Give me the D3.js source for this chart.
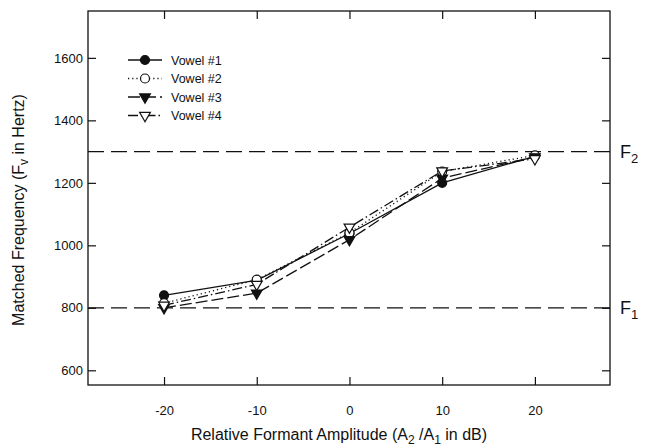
<!DOCTYPE html>
<html><head><meta charset="utf-8">
<script src="https://cdn.jsdelivr.net/npm/d3@7"></script>
<style>body{margin:0;background:#fff}svg{display:block}text{font-family:"Liberation Sans",Arial,sans-serif;fill:#111}</style>
</head><body><svg id="c" width="645" height="447"></svg>
<script>
const xValues = [-20, -10, 0, 10, 20];
const vowel1 = [840, 888, 1038, 1200, 1285];
const vowel2 = [815, 890, 1040, 1236, 1288];
const vowel3 = [800, 847, 1018, 1215, 1283];
const vowel4 = [808, 875, 1058, 1238, 1277];
const seriesNames = ["Vowel #1", "Vowel #2", "Vowel #3", "Vowel #4"];
const xTicks = [-20, -10, 0, 10, 20];
const yTicks = [600, 800, 1000, 1200, 1400, 1600];
const refLines = [800, 1300];

const svg = d3.select("#c");
const L = 88, R = 610, T = 11, B = 385;
const x = d3.scaleLinear().domain([-28.2, 28.1]).range([L, R]);
const y = d3.scaleLinear().domain([553, 1750]).range([B, T]);

const styles = [
  {dash: null, marker: "circle", fill: "#111"},
  {dash: "1.2,3", marker: "circle", fill: "#fff"},
  {dash: "12,4", marker: "tri", fill: "#111"},
  {dash: "10,3,1.5,3", marker: "tri", fill: "#fff"}
];
const allSeries = [vowel1, vowel2, vowel3, vowel4];
const fmt = d => String(d);

svg.append("rect").attr("x", L).attr("y", T).attr("width", R - L).attr("height", B - T)
  .attr("fill", "none").attr("stroke", "#111").attr("stroke-width", 1.3);

const ax = (g, axis) => { g.call(axis); g.select(".domain").remove(); g.selectAll("line").attr("stroke", "#111").attr("stroke-width", 1.2); };
svg.append("g").attr("transform", `translate(0,${B})`)
  .call(g => ax(g, d3.axisBottom(x).tickValues(xTicks).tickSizeInner(-8).tickPadding(21).tickFormat(fmt)))
  .selectAll("text").attr("font-size", 13);
svg.append("g").attr("transform", `translate(0,${T})`)
  .call(g => ax(g, d3.axisTop(x).tickValues(xTicks).tickSizeInner(-8).tickFormat("")));
svg.append("g").attr("transform", `translate(${L},0)`)
  .call(g => ax(g, d3.axisLeft(y).tickValues(yTicks).tickSizeInner(-8).tickFormat(fmt)))
  .selectAll("text").attr("font-size", 13).attr("x", -5);
svg.append("g").attr("transform", `translate(${R},0)`)
  .call(g => ax(g, d3.axisRight(y).tickValues(yTicks).tickSizeInner(-8).tickFormat("")));

svg.selectAll(".ref").data(refLines).join("line")
  .attr("x1", L).attr("x2", R).attr("y1", d => y(d)).attr("y2", d => y(d))
  .attr("stroke", "#111").attr("stroke-width", 1.2).attr("stroke-dasharray", "16,7");
const fl = svg.selectAll(".fl").data([["F", "2", 1300], ["F", "1", 800]]).join("text")
  .attr("x", 620).attr("y", d => y(d[2]) + 6).attr("font-size", 18);
fl.append("tspan").text(d => d[0]);
fl.append("tspan").attr("font-size", 13).attr("dy", 5).text(d => d[1]);

const line = d3.line().x((d, i) => x(xValues[i])).y(d => y(d));
const tri = d3.symbol().type(d3.symbolTriangle).size(50);
function drawMarker(g, st, cx, cy) {
  if (st.marker === "circle") {
    g.append("circle").attr("cx", cx).attr("cy", cy).attr("r", 4.5)
      .attr("fill", st.fill).attr("stroke", "#111").attr("stroke-width", 1.2);
  } else {
    g.append("path").attr("d", tri()).attr("transform", `translate(${cx},${cy}) rotate(180)`)
      .attr("fill", st.fill).attr("stroke", "#111").attr("stroke-width", 1.2);
  }
}
allSeries.forEach((s, k) => {
  svg.append("path").datum(s).attr("d", line).attr("fill", "none")
    .attr("stroke", "#111").attr("stroke-width", 1.3)
    .attr("stroke-dasharray", styles[k].dash);
});
allSeries.forEach((s, k) => {
  const g = svg.append("g");
  s.forEach((v, i) => drawMarker(g, styles[k], x(xValues[i]), y(v)));
});

const lg = svg.append("g");
seriesNames.forEach((name, k) => {
  const yy = 60 + k * 18.5, st = styles[k];
  lg.append("line").attr("x1", 128).attr("x2", 162).attr("y1", yy).attr("y2", yy)
    .attr("stroke", "#111").attr("stroke-width", 1.3).attr("stroke-dasharray", st.dash);
  drawMarker(lg, st, 145, yy);
  lg.append("text").attr("x", 171).attr("y", yy + 4.5).attr("font-size", 12.5).text(name);
});

const xt = svg.append("text").attr("x", (L + R) / 2 - 10).attr("y", 440).attr("text-anchor", "middle").attr("font-size", 16);
xt.append("tspan").text("Relative Formant Amplitude (A");
xt.append("tspan").attr("font-size", 12).attr("dy", 4).text("2");
xt.append("tspan").attr("dy", -4).text(" /A");
xt.append("tspan").attr("font-size", 12).attr("dy", 4).text("1");
xt.append("tspan").attr("dy", -4).text(" in dB)");

const yt = svg.append("text").attr("transform", `translate(24,${(T + B) / 2 + 12}) rotate(-90)`)
  .attr("text-anchor", "middle").attr("font-size", 16);
yt.append("tspan").text("Matched Frequency (F");
yt.append("tspan").attr("font-size", 12).attr("dy", 4).text("v");
yt.append("tspan").attr("dy", -4).text("  in Hertz)");
</script></body></html>
